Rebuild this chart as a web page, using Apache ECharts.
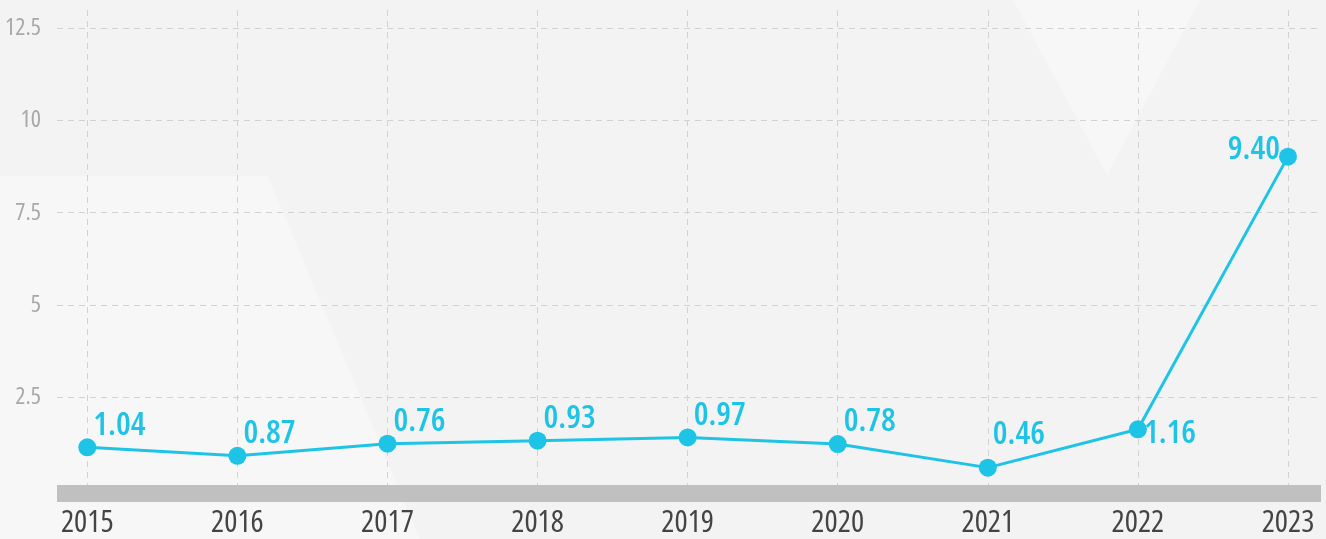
<!DOCTYPE html>
<html>
<head>
<meta charset="utf-8">
<script src="https://cdn.jsdelivr.net/npm/echarts@6/dist/echarts.min.js"></script>
<style>
  html, body { margin: 0; padding: 0; background: #f4f3f4; }
  #chart { width: 1326px; height: 539px; }
</style>
</head>
<body>
<div id="chart"></div>
<script>
// years on the x axis
let years = ['2015', '2016', '2017', '2018', '2019', '2020', '2021', '2022', '2023']
let values = [1.13, 0.90, 1.23, 1.31, 1.40, 1.22, 0.58, 1.62, 9.02]
// what is printed next to each point
let labels = ['1.04', '0.87', '0.76', '0.93', '0.97', '0.78', '0.46', '1.16', '9.40']
// y axis ticks
let yTicks = [0, 2.5, 5, 7.5, 10, 12.5]

let cyan = '#1ec4e6'
// "condensed" goes in front of the font string, so Open Sans is drawn narrow
let narrow = 'condensed'
let font = '"Open Sans", "Roboto Condensed", sans-serif'

// a few labels sit in other spots
let labelTweaks = {
  6: { offset: [-4, -33] },
  7: { offset: [-3, 4] },
  8: { position: 'left', offset: [1, -7] }
}

let chart = echarts.init(document.getElementById('chart'))

let seriesData = values.map(function (v, i) {
  let item = { value: v }
  if (labelTweaks[i]) item.label = labelTweaks[i]
  return item
})

let dashed = { color: '#d2d2d2', type: [6, 5], width: 1 }

let option = {
  backgroundColor: '#f4f3f4',
  graphic: [
    {
      type: 'polygon', z: -10, silent: true,
      shape: { points: [[0, 176], [268, 176], [420, 539], [0, 539]] },
      style: { fill: '#f7f7f7' }
    },
    {
      type: 'polygon', z: -10, silent: true,
      shape: { points: [[1013, 0], [1200, 0], [1107, 175]] },
      style: { fill: '#f7f7f7' }
    }
  ],
  grid: [
    // y labels, horizontal lines and the grey base bar
    { left: 57, right: 5, top: 28.3, bottom: 49.8 },
    // the line itself
    { left: 87.3, right: 38, top: 10, bottom: 49.8 }
  ],
  xAxis: [
    {
      gridIndex: 0,
      type: 'value',
      min: 0,
      max: 1,
      z: 5,
      offset: 4,
      axisLine: { show: true, onZero: false, lineStyle: { color: '#c0c0c1', width: 17, cap: 'butt' } },
      axisTick: { show: false },
      axisLabel: { show: false },
      splitLine: { show: false }
    },
    {
      gridIndex: 1,
      type: 'category',
      data: years,
      boundaryGap: false,
      z: 1,
      axisLine: { show: false },
      axisTick: { show: false },
      axisLabel: {
        color: '#444444',
        fontStyle: narrow,
        fontFamily: font,
        fontSize: 31,
        margin: 19
      },
      splitLine: { show: true, lineStyle: dashed }
    }
  ],
  yAxis: [
    {
      gridIndex: 0,
      type: 'value',
      min: yTicks[0],
      max: yTicks[yTicks.length - 1],
      interval: yTicks[1] - yTicks[0],
      axisLine: { show: false },
      axisTick: { show: false },
      axisLabel: {
        showMinLabel: false,
        color: '#a8a8a8',
        fontStyle: narrow,
        fontFamily: font,
        fontSize: 24,
        margin: 16
      },
      splitLine: { show: true, lineStyle: dashed }
    },
    {
      gridIndex: 1,
      type: 'value',
      min: 0,
      max: 13,
      show: false,
      splitLine: { show: false }
    }
  ],
  series: [{
    type: 'line',
    xAxisIndex: 1,
    yAxisIndex: 1,
    data: seriesData,
    z: 10,
    symbol: 'circle',
    symbolSize: 18,
    lineStyle: { color: cyan, width: 3 },
    itemStyle: { color: cyan },
    label: {
      show: true,
      position: 'right',
      distance: 0,
      offset: [-3, -22],
      color: cyan,
      fontStyle: narrow,
      fontFamily: font,
      fontSize: 33,
      fontWeight: 600,
      formatter: function (p) {
        return labels[p.dataIndex]
      }
    },
    emphasis: { disabled: true },
    animation: false
  }]
}
chart.setOption(option)
</script>
</body>
</html>
